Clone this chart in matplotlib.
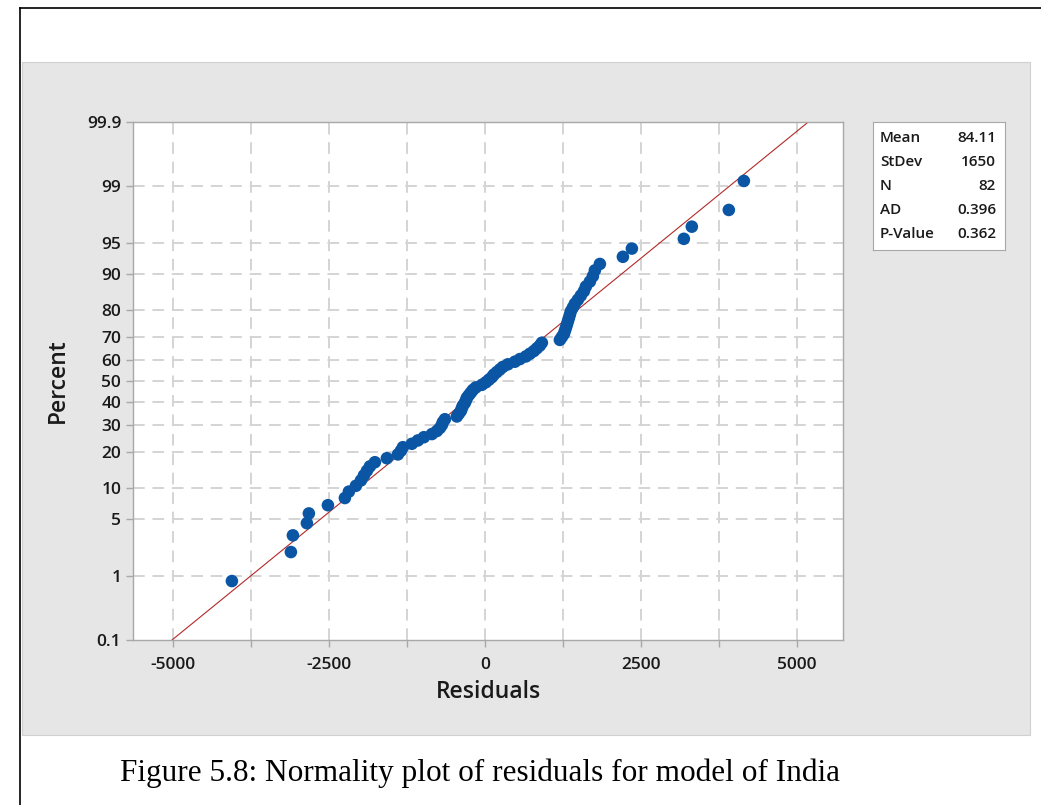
"""Normal probability plot of the India model residuals (Minitab style)."""

from statistics import NormalDist

import matplotlib

matplotlib.use("Agg")
import matplotlib.pyplot as plt
from matplotlib.patches import Rectangle
from matplotlib.lines import Line2D

# sorted residuals, 82 observations
residuals = [
    -4055, -3109, -3077, -2853, -2821, -2516, -2244, -2180, -2067, -1987,
    -1939, -1891, -1843, -1763, -1571, -1394, -1346, -1314, -1170, -1074,
    -978, -849, -769, -721, -689, -673, -641, -449, -417, -385,
    -369, -353, -321, -304, -288, -256, -224, -192, -144, -48,
    16, 64, 112, 144, 192, 240, 288, 369, 481, 561,
    657, 721, 785, 833, 881, 913, 1202, 1234, 1266, 1282,
    1298, 1314, 1330, 1346, 1362, 1378, 1410, 1442, 1490, 1538,
    1587, 1619, 1683, 1731, 1763, 1843, 2212, 2356, 3189, 3317,
    3910, 4151,
]
stat_names = ["Mean", "StDev", "N", "AD", "P-Value"]
stat_values = ["84.11", "1650", "82", "0.396", "0.362"]
fit_mean = 84.11
fit_stdev = 1650
percent_ticks = [0.1, 1, 5, 10, 20, 30, 40, 50, 60, 70, 80, 90, 95, 99, 99.9]
x_ticks = [-5000, -2500, 0, 2500, 5000]

norm = NormalDist()
n = len(residuals)
# Minitab plotting positions: (i - 0.3) / (n + 0.4)
z_points = [norm.inv_cdf((i - 0.3) / (n + 0.4)) for i in range(1, n + 1)]
z_lo, z_hi = norm.inv_cdf(0.001), norm.inv_cdf(0.999)

TICK_COLOR = "#1a1a1a"
GRID_COLOR = "#d4d4d4"
FRAME_COLOR = "#a8a8a8"
FONT = "Open Sans"

fig = plt.figure(figsize=(10.41, 8.05), dpi=100)
fig.patch.set_facecolor("white")

# page frame and grey graph region
fig.add_artist(Line2D([20 / 1041, 20 / 1041], [0, 1 - 8 / 805], transform=fig.transFigure, color="black", lw=1.2))
fig.add_artist(Line2D([20 / 1041, 1], [1 - 8 / 805, 1 - 8 / 805], transform=fig.transFigure, color="black", lw=1.2))
fig.add_artist(Rectangle((22 / 1041, 1 - 735 / 805), (1030 - 22) / 1041, (735 - 62) / 805,
                         transform=fig.transFigure, facecolor="#e6e6e6", edgecolor="#d0d0d0", lw=0.8, zorder=0))

ax = fig.add_axes([133 / 1041, 1 - 640 / 805, (843 - 133) / 1041, (640 - 122) / 805])
ax.set_facecolor("white")

for gx in range(-5000, 5001, 1250):
    ax.axvline(gx, color=GRID_COLOR, lw=1.4, dashes=(6, 4), zorder=1)
for p in percent_ticks[1:-1]:
    ax.axhline(norm.inv_cdf(p / 100), color=GRID_COLOR, lw=1.4, dashes=(6, 4), zorder=1)

# fitted normal line from 0.1% to 99.9%
ax.plot([fit_mean + fit_stdev * z_lo, fit_mean + fit_stdev * z_hi], [z_lo, z_hi],
        color="#b42828", lw=0.8, zorder=2)
ax.scatter(residuals, z_points, s=82, color="#0a56a5", edgecolors="none", zorder=3)

ax.set_xlim(-5640, 5740)
ax.set_ylim(z_lo, z_hi)
ax.set_yticks([norm.inv_cdf(p / 100) for p in percent_ticks])
ax.set_yticklabels([f"{p:g}" for p in percent_ticks])
ax.set_xticks(x_ticks)
ax.set_xticks(range(-5000, 5001, 1250), minor=True)
ax.set_xticklabels([str(t) for t in x_ticks])

for spine in ax.spines.values():
    spine.set_color(FRAME_COLOR)
    spine.set_linewidth(1.0)
ax.tick_params(axis="both", which="both", color=FRAME_COLOR, length=5, width=1.0,
               labelcolor=TICK_COLOR, labelsize=12.5)
ax.tick_params(axis="x", which="minor", length=5)
ax.tick_params(axis="x", pad=7)
for lbl in ax.get_xticklabels() + ax.get_yticklabels():
    lbl.set_family(FONT)
    lbl.set_fontweight("semibold")

ax.set_xlabel("Residuals", fontsize=16.5, family=FONT, fontweight="semibold", color=TICK_COLOR, labelpad=5)
ax.set_ylabel("Percent", fontsize=16.5, family=FONT, fontweight="semibold", color=TICK_COLOR, labelpad=12)

# summary statistics box
box = fig.add_axes([873 / 1041, 1 - 250 / 805, (1005 - 873) / 1041, (250 - 122) / 805])
box.set_xticks([])
box.set_yticks([])
for spine in box.spines.values():
    spine.set_color(FRAME_COLOR)
box.set_xlim(0, 132)
box.set_ylim(128, 0)
for k, (name, value) in enumerate(zip(stat_names, stat_values)):
    yy = 16 + k * 24
    box.text(7, yy, name, fontsize=11, family=FONT, fontweight="semibold",
             color=TICK_COLOR, va="center", ha="left")
    box.text(123, yy, value, fontsize=11, family=FONT, fontweight="semibold",
             color=TICK_COLOR, va="center", ha="right")

fig.text(480 / 1041, 1 - 773 / 805, "Figure 5.8: Normality plot of residuals for model of India",
         fontsize=22.5, family="Liberation Serif", ha="center", va="center", color="black")

fig.savefig("out.png", dpi=100)
